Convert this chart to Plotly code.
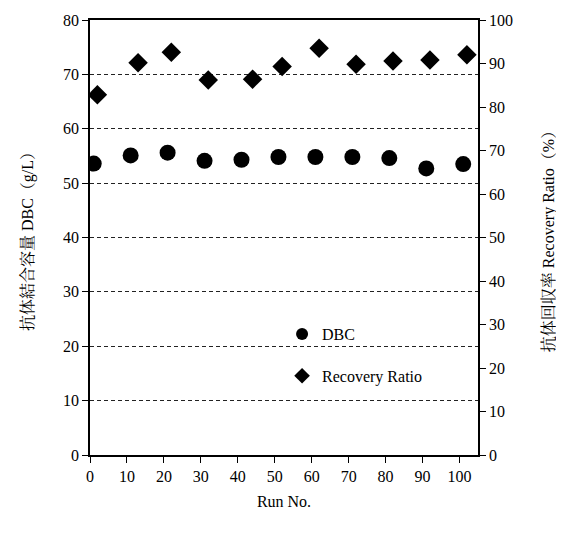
import plotly.graph_objects as go

run_dbc = [1, 11, 21, 31, 41, 51, 61, 71, 81, 91, 101]
dbc = [53.6, 55.1, 55.6, 54.1, 54.3, 54.8, 54.8, 54.8, 54.6, 52.7, 53.5]
run_rec = [2, 13, 22, 32, 44, 52, 62, 72, 82, 92, 102]
recovery = [82.8, 90.2, 92.6, 86.2, 86.4, 89.3, 93.5, 89.8, 90.6, 90.8, 92.0]

FONT = "Liberation Serif, Noto Serif CJK JP, Noto Sans CJK JP, serif"

fig = go.Figure()
fig.add_trace(go.Scatter(x=run_dbc, y=dbc, mode="markers", name="DBC",
                         legendgroup="a",
                         marker=dict(symbol="circle", size=16, color="black")))
fig.add_trace(go.Scatter(x=run_rec, y=recovery, mode="markers", name="Recovery Ratio",
                         legendgroup="b", yaxis="y2",
                         marker=dict(symbol="diamond", size=15, color="black")))

# page body has an 8px margin, so the figure is sized/offset to compensate
fig.update_layout(
    width=556, height=525,
    margin=dict(l=82, r=86, t=12, b=78),
    paper_bgcolor="white", plot_bgcolor="white",
    font=dict(family=FONT, size=16, color="black"),
    showlegend=True,
    legend=dict(x=0.495, y=0.317, xanchor="left", yanchor="top",
                bgcolor="rgba(0,0,0,0)", tracegroupgap=18,
                font=dict(size=16), itemsizing="constant"),
    xaxis=dict(range=[0, 105], tickvals=list(range(0, 101, 10)),
               showline=True, linecolor="black", linewidth=1.5, mirror=True,
               ticks="outside", ticklen=6, tickcolor="black",
               showgrid=False, zeroline=False, automargin=False,
               title=dict(text="Run No.", standoff=12, font=dict(size=16))),
    yaxis=dict(range=[0, 80], tickvals=list(range(0, 81, 10)),
               showline=True, linecolor="black", linewidth=1.5,
               ticks="outside", ticklen=6, tickcolor="black",
               showgrid=True, gridcolor="#222222", griddash="4px,3px", gridwidth=1,
               zeroline=False, automargin=False,
               title=dict(text="抗体結合容量 DBC（g/L）", standoff=25, font=dict(size=16))),
    yaxis2=dict(range=[0, 100], tickvals=list(range(0, 101, 10)),
                overlaying="y", side="right",
                showline=True, linecolor="black", linewidth=1.5,
                ticks="outside", ticklen=6, tickcolor="black",
                showgrid=False, zeroline=False, automargin=False,
                title=dict(text="抗体回収率 Recovery Ratio（%）", standoff=31, font=dict(size=16))),
)

fig.write_html("out.html")
